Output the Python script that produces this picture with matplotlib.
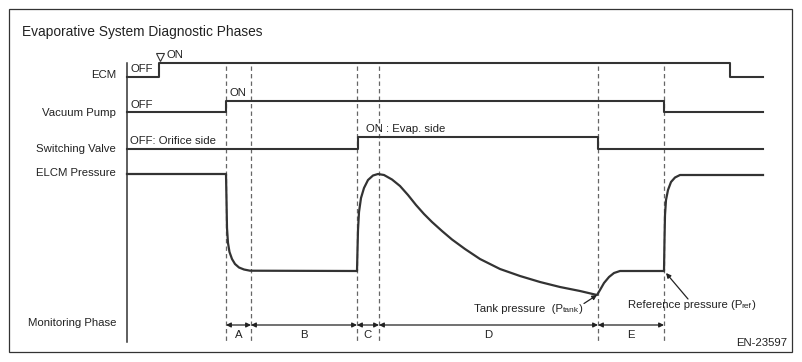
import matplotlib
matplotlib.use("Agg")
import matplotlib.pyplot as plt
from matplotlib.patches import Rectangle
from matplotlib.offsetbox import TextArea, HPacker, AnnotationBbox

plt.rcParams['font.family'] = ['Liberation Sans', 'DejaVu Sans']

# eje de tiempo del diagrama (unidades = posicion horizontal en la figura)
t_start = 127
t_end = 763
phase_bounds = [226, 251, 357, 379, 598, 664]
phase_names = ['A', 'B', 'C', 'D', 'E']

# señales ON/OFF: instantes de cambio y niveles (bajo, alto)
ecm_t = [t_start, 159, 159, 730, 730, t_end]
ecm_y = [76.5, 76.5, 63, 63, 76.5, 76.5]
pump_t = [t_start, 226, 226, 664, 664, t_end]
pump_y = [112, 112, 101, 101, 112, 112]
valve_t = [t_start, 357.5, 357.5, 598, 598, t_end]
valve_y = [149, 149, 137, 137, 149, 149]

# presion ELCM
elcm_t = [127, 226, 226.5, 227, 228, 229.5, 232, 235, 239, 244, 250, 357,
          357.5, 358, 359, 361, 364, 368, 373, 378, 384, 392, 400, 408,
          416, 424, 432, 442, 452, 465, 480, 500, 520, 540, 560, 580, 597,
          600, 604, 609, 614, 620, 664,
          664.5, 665, 666, 668, 671, 675, 680, 763]
elcm_y = [174, 174, 200, 228, 243, 252, 259, 264, 267.5, 269.5, 270.7, 271,
          250, 230, 212, 198, 188, 180, 175.5, 174, 175, 179.5, 186, 195,
          205, 214, 222, 231, 239.5, 249, 259, 269, 276, 282, 287, 291, 295,
          290, 283, 277, 273, 271, 271,
          240, 215, 200, 190, 182, 177.5, 175, 175]

row_labels = ['ECM', 'Vacuum Pump', 'Switching Valve', 'ELCM Pressure', 'Monitoring Phase']
row_label_y = [75.5, 113, 149, 173, 323]

fig = plt.figure(figsize=(8.02, 3.62), dpi=100)
ax = fig.add_axes([0, 0, 1, 1])
ax.set_xlim(0, 802)
ax.set_ylim(362, 0)
ax.axis('off')

dark = '#333333'
txt = '#222222'
fs = 8.2

# marco
ax.add_patch(Rectangle((9, 9), 783, 343, fill=False, ec=dark, lw=0.9))
ax.text(22, 32, 'Evaporative System Diagnostic Phases', fontsize=9.9,
        color=txt, va='center', ha='left')

# eje vertical
ax.plot([t_start, t_start], [63, 342], color=dark, lw=1.1)

# lineas de fase
for x in phase_bounds:
    ax.plot([x, x], [66, 342], color='#666666', lw=0.9,
            ls=(0, (3.5, 2.5)), zorder=1)

# señales
ax.plot(ecm_t, ecm_y, color=dark, lw=1.5, zorder=3)
ax.plot(pump_t, pump_y, color=dark, lw=1.5, zorder=3)
ax.plot(valve_t, valve_y, color=dark, lw=1.5, zorder=3)
ax.plot(elcm_t, elcm_y, color=dark, lw=1.6, zorder=3, solid_joinstyle='round')

# etiquetas de fila
for lab, y in zip(row_labels, row_label_y):
    ax.text(116, y, lab, fontsize=fs, color=txt, ha='right', va='center')

# textos de estado
ax.text(130.5, 69, 'OFF', fontsize=fs, color=txt, va='center')
ax.plot([159.5], [57], marker='v', ms=5.2, mfc='white', mec=dark, mew=0.8)
ax.text(166.5, 55.5, 'ON', fontsize=fs, color=txt, va='center')
ax.text(229.5, 93, 'ON', fontsize=fs, color=txt, va='center')
ax.text(130.5, 104.5, 'OFF', fontsize=fs, color=txt, va='center')
ax.text(130.5, 141.5, 'OFF: Orifice side', fontsize=fs, color=txt, va='center')
ax.text(366, 129.5, 'ON : Evap. side', fontsize=fs, color=txt, va='center')

# fases de monitoreo
arrow_y = 325
for i, name in enumerate(phase_names):
    x0, x1 = phase_bounds[i], phase_bounds[i + 1]
    ax.annotate('', xy=(x1, arrow_y), xytext=(x0, arrow_y),
                arrowprops=dict(arrowstyle='<|-|>', color=txt, lw=0.9,
                                mutation_scale=7, shrinkA=0, shrinkB=0))
    ax.text((x0 + x1) / 2, 335.5, name, fontsize=fs, color=txt,
            ha='center', va='center')


def label_sub(x, y, main, sub):
    big = dict(fontsize=fs, color=txt)
    small = dict(fontsize=6, color=txt)
    box = HPacker(children=[TextArea(main, textprops=big),
                            TextArea(sub, textprops=small),
                            TextArea(')', textprops=big)],
                  align='baseline', pad=0, sep=0)
    ab = AnnotationBbox(box, (x, y), xycoords='data', box_alignment=(0, 0.5),
                        frameon=False, pad=0)
    ax.add_artist(ab)


# anotaciones de presion
label_sub(474, 308.5, 'Tank pressure  (P', 'tank')
ax.annotate('', xy=(597, 295), xytext=(584, 303.5),
            arrowprops=dict(arrowstyle='-|>', color=txt, lw=0.9,
                            mutation_scale=7, shrinkA=0, shrinkB=0))
label_sub(627.5, 304.5, 'Reference pressure (P', 'ref')
ax.annotate('', xy=(666, 273), xytext=(688, 299),
            arrowprops=dict(arrowstyle='-|>', color=txt, lw=0.9,
                            mutation_scale=7, shrinkA=0, shrinkB=0))

ax.text(787, 343, 'EN-23597', fontsize=fs, color=txt, ha='right', va='center')

fig.savefig('out.png', dpi=100)
